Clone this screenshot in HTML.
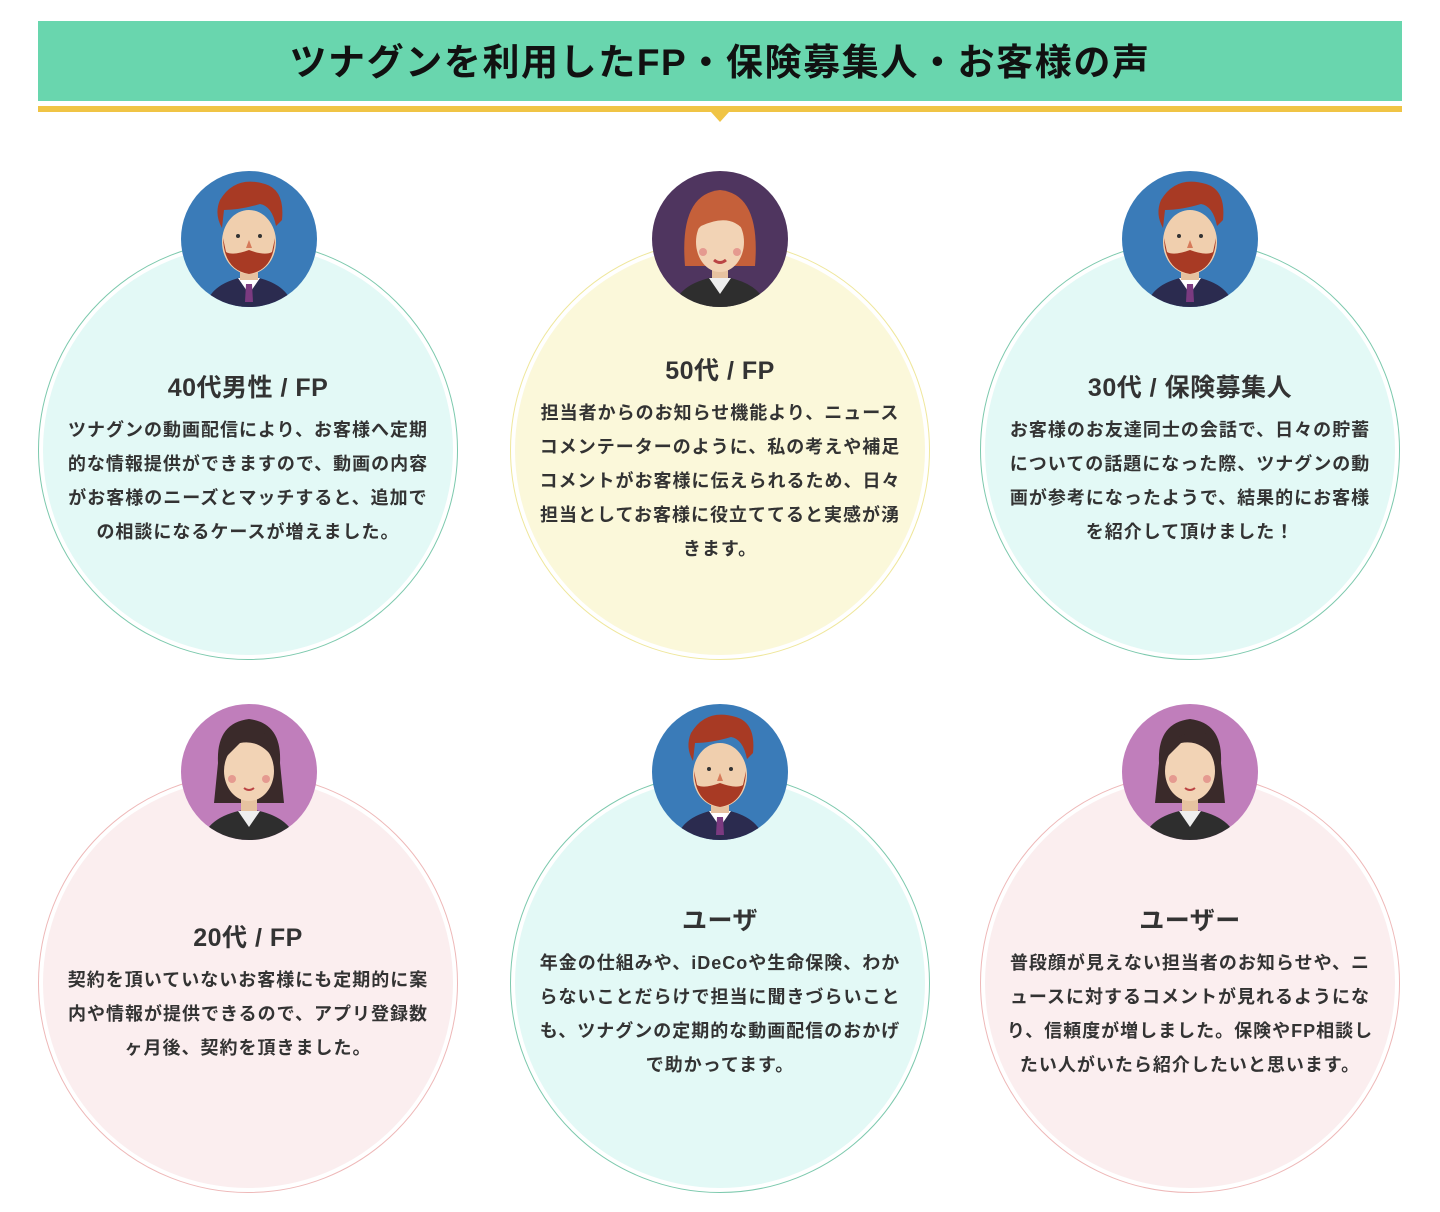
<!DOCTYPE html>
<html><head><meta charset="utf-8"><style>
body{margin:0;width:1440px;height:1212px;background:#fff;font-family:"Liberation Sans","Noto Sans CJK JP",sans-serif;position:relative;overflow:hidden}
.hdr{position:absolute;left:38px;top:21px;width:1364px;height:80px;background:#69d6ae;text-align:center;line-height:84px;font-size:37px;font-weight:bold;color:#111;letter-spacing:1.6px}
.line{position:absolute;left:38px;top:106px;width:1364px;height:6px;background:#f0c445}
.tri{position:absolute;left:711px;top:112px;width:0;height:0;border-left:9px solid transparent;border-right:9px solid transparent;border-top:10px solid #f0c445}
.c{position:absolute;width:420px;height:420px;border-radius:50%;border:1px solid;box-sizing:border-box}
.c .in{position:absolute;left:4px;top:4px;right:4px;bottom:4px;border-radius:50%;display:flex;flex-direction:column;justify-content:center;align-items:center;text-align:center;padding-top:17px;box-sizing:border-box}
.t{font-size:25px;font-weight:bold;color:#333;margin-bottom:9px;letter-spacing:0.5px}
.b{font-size:18px;font-weight:bold;color:#333;line-height:34px;width:368px;letter-spacing:1px}
.g{border-color:#7cc9ad}.g .in{background:#e3f9f6}
.y{border-color:#efe79c}.y .in{background:#fbf8da}
.p{border-color:#eeb8b8}.p .in{background:#fbeeef}
svg.av{position:absolute;width:138px;height:138px}
</style></head><body>
<div class="hdr">ツナグンを利用したFP・保険募集人・お客様の声</div>
<div class="line"></div><div class="tri"></div>

<div class="c g" style="left:38px;top:240px"><div class="in"><div class="t">40代男性 / FP</div><div class="b">ツナグンの動画配信により、お客様へ定期的な情報提供ができますので、動画の内容がお客様のニーズとマッチすると、追加での相談になるケースが増えました。</div></div></div>
<div class="c y" style="left:510px;top:240px"><div class="in"><div class="t">50代 / FP</div><div class="b">担当者からのお知らせ機能より、ニュースコメンテーターのように、私の考えや補足コメントがお客様に伝えられるため、日々担当としてお客様に役立ててると実感が湧きます。</div></div></div>
<div class="c g" style="left:980px;top:240px"><div class="in"><div class="t">30代 / 保険募集人</div><div class="b">お客様のお友達同士の会話で、日々の貯蓄についての話題になった際、ツナグンの動画が参考になったようで、結果的にお客様を紹介して頂けました！</div></div></div>
<div class="c p" style="left:38px;top:773px"><div class="in"><div class="t">20代 / FP</div><div class="b">契約を頂いていないお客様にも定期的に案内や情報が提供できるので、アプリ登録数ヶ月後、契約を頂きました。</div></div></div>
<div class="c g" style="left:510px;top:773px"><div class="in"><div class="t">ユーザ</div><div class="b">年金の仕組みや、iDeCoや生命保険、わからないことだらけで担当に聞きづらいことも、ツナグンの定期的な動画配信のおかげで助かってます。</div></div></div>
<div class="c p" style="left:980px;top:773px"><div class="in"><div class="t">ユーザー</div><div class="b">普段顔が見えない担当者のお知らせや、ニュースに対するコメントが見れるようになり、信頼度が増しました。保険やFP相談したい人がいたら紹介したいと思います。</div></div></div>

<svg width="0" height="0" style="position:absolute"><defs>
<clipPath id="cc"><circle cx="69" cy="69" r="68"/></clipPath>
<g id="man"><circle cx="69" cy="69" r="68" fill="#3a7bb8"/><g clip-path="url(#cc)">
<path d="M25 138 Q30 112 69 106 Q108 112 113 138Z" fill="#2b2b4f"/><path d="M58 108 L69 124 L80 108Z" fill="#fff"/><path d="M66 114 L72 114 L73 132 L65 132Z" fill="#7b3a80"/>
<rect x="60" y="92" width="18" height="18" fill="#e6c2a0"/>
<ellipse cx="69" cy="72" rx="27" ry="32" fill="#f0cfae"/>
<path d="M40 30 Q55 5 85 14 Q105 20 102 50 L96 56 Q92 36 80 34 Q60 40 44 40 L42 58 Q34 44 40 30Z" fill="#a83a24"/>
<path d="M43 68 Q44 100 69 104 Q94 100 95 68 L92 82 Q85 86 69 80 Q53 86 46 82Z" fill="#a83a24"/>
<circle cx="58" cy="66" r="2" fill="#333"/><circle cx="80" cy="66" r="2" fill="#333"/><path d="M66 78 L69 70 L72 78Z" fill="#d67a5a"/></g></g>
<g id="wom"><circle cx="69" cy="69" r="68" fill="#c07ebb"/><g clip-path="url(#cc)">
<path d="M22 138 Q28 112 69 106 Q110 112 116 138Z" fill="#2e2e2e"/><path d="M58 108 L69 124 L80 108Z" fill="#eee"/>
<path d="M38 60 Q36 20 69 16 Q102 20 100 60 L104 100 L34 100Z" fill="#3a2a2a"/>
<rect x="61" y="90" width="16" height="18" fill="#e6c2a0"/>
<ellipse cx="69" cy="68" rx="25" ry="30" fill="#f2d3b5"/>
<path d="M44 56 Q50 26 84 30 Q92 40 94 56 Q80 36 60 40Z" fill="#3a2a2a"/>
<circle cx="52" cy="76" r="4" fill="#e59a90"/><circle cx="86" cy="76" r="4" fill="#e59a90"/><path d="M64 85 Q69 89 74 85" stroke="#b44" stroke-width="2" fill="none"/></g></g>
<g id="red"><circle cx="69" cy="69" r="68" fill="#4f355f"/><g clip-path="url(#cc)">
<path d="M22 138 Q28 112 69 106 Q110 112 116 138Z" fill="#2e2e2e"/><path d="M58 108 L69 124 L80 108Z" fill="#eee"/>
<rect x="61" y="90" width="16" height="18" fill="#e6c2a0"/>
<path d="M34 96 Q28 24 69 20 Q110 24 104 96 Z" fill="#c5603a"/>
<ellipse cx="69" cy="72" rx="24" ry="30" fill="#f2d3b5"/>
<path d="M46 60 Q54 32 92 40 Q96 50 94 62 Q80 42 50 56Z" fill="#c5603a"/>
<circle cx="52" cy="82" r="4" fill="#e59a90"/><circle cx="86" cy="82" r="4" fill="#e59a90"/><path d="M63 90 Q69 95 75 90" stroke="#b44" stroke-width="3" fill="none"/></g></g>
</defs></svg>
<svg class="av" style="left:180px;top:170px" viewBox="0 0 138 138"><use href="#man"/></svg>
<svg class="av" style="left:651px;top:170px" viewBox="0 0 138 138"><use href="#red"/></svg>
<svg class="av" style="left:1121px;top:170px" viewBox="0 0 138 138"><use href="#man"/></svg>
<svg class="av" style="left:180px;top:703px" viewBox="0 0 138 138"><use href="#wom"/></svg>
<svg class="av" style="left:651px;top:703px" viewBox="0 0 138 138"><use href="#man"/></svg>
<svg class="av" style="left:1121px;top:703px" viewBox="0 0 138 138"><use href="#wom"/></svg>
</body></html>
